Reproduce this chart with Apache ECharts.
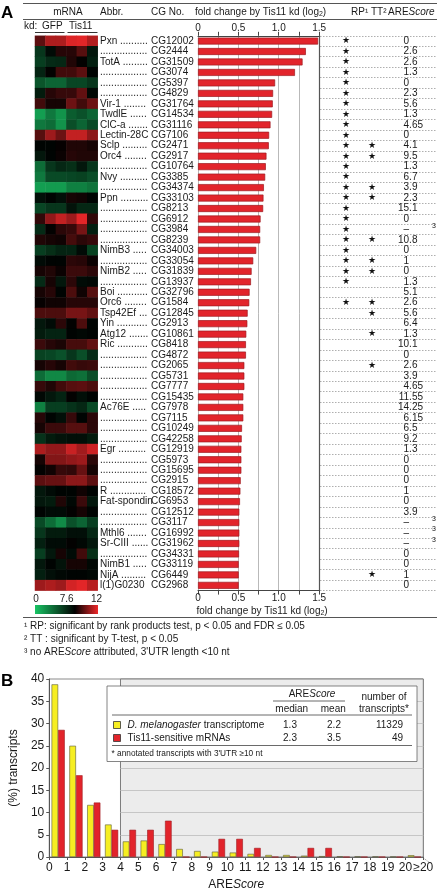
<!DOCTYPE html>
<html><head><meta charset="utf-8">
<script src="https://cdn.jsdelivr.net/npm/echarts@6/dist/echarts.min.js"></script>
<style>html,body{margin:0;padding:0;background:#fff}#c{width:439px;height:892px}</style>
</head><body><div id="c"></div>
<script>
// ---------------- DATA (panel A) ----------------
const abbr = ['Pxn','','TotA','','','','Vir-1','TwdlE','ClC-a','Lectin-28C','Sclp','Orc4','','Nvy','','Ppn','','','','','NimB3','','NimB2','','Boi','Orc6','Tsp42Ef','Yin','Atg12','Ric','','','','','','Ac76E','','','','Egr','','','','R','Fat-spondin','','','Mthl6','Sr-CIII','','NimB1','NijA','l(1)G0230'];
const cgNo = ['CG12002','CG2444','CG31509','CG3074','CG5397','CG4829','CG31764','CG14534','CG31116','CG7106','CG2471','CG2917','CG10764','CG3385','CG34374','CG33103','CG8213','CG6912','CG3984','CG8239','CG34003','CG33054','CG31839','CG13937','CG32796','CG1584','CG12845','CG2913','CG10861','CG8418','CG4872','CG2065','CG5731','CG7777','CG15435','CG7978','CG7115','CG10249','CG42258','CG12919','CG5973','CG15695','CG2915','CG18572','CG6953','CG12512','CG3117','CG16992','CG31962','CG34331','CG33119','CG6449','CG2968'];
const foldChange = [1.488,1.336,1.295,1.201,0.955,0.930,0.926,0.918,0.898,0.881,0.877,0.848,0.840,0.832,0.816,0.811,0.807,0.775,0.770,0.770,0.721,0.684,0.664,0.656,0.639,0.635,0.615,0.611,0.598,0.594,0.594,0.574,0.574,0.574,0.561,0.561,0.561,0.545,0.541,0.537,0.537,0.537,0.529,0.525,0.520,0.512,0.512,0.512,0.512,0.508,0.504,0.504,0.504];
const rpSignificant = [1,1,1,1,1,1,1,1,1,1,1,1,1,1,1,1,1,1,1,1,1,1,1,1,0,1,0,0,0,0,0,0,0,0,0,0,0,0,0,0,0,0,0,0,0,0,0,0,0,0,0,0,0];
const ttSignificant = [0,0,0,0,0,0,0,0,0,0,1,1,0,0,1,1,0,0,0,1,0,1,1,0,0,1,1,0,1,0,0,1,0,0,0,0,0,0,0,0,0,0,0,0,0,0,0,0,0,0,0,1,0];
const areScore = ['0','2.6','2.6','1.3','0','2.3','5.6','1.3','4.65','0','4.1','9.5','1.3','6.7','3.9','2.3','15.1','0','–','10.8','0','1','0','1.3','5.1','2.6','5.6','6.4','1.3','10.1','0','2.6','3.9','4.65','11.55','14.25','6.15','6.5','9.2','1.3','0','0','0','1','0','3.9','–','–','–','0','0','1','0'];
const kdColumns = ['GFP 1','GFP 2','GFP 3','Tis11 1','Tis11 2','Tis11 3'];
const mrnaLevels = [
[9.3,10.8,10.8,11.7,11.8,10.9],[5.5,7.15,8.3,8.3,9.2,6.7],[5.2,5.95,6.1,8.2,7.6,6.4],[6.25,7.6,8.8,8.8,9.3,7.45],
[4.3,3.7,3.7,4.9,4.9,5.5],[6.55,8.3,8.6,8.6,9.4,7.3],[8.8,8.0,8.0,9.6,8.8,9.6],[1.45,2.95,1.9,4.0,4.45,3.7],
[2.95,3.4,1.9,4.6,3.7,4.75],[9.2,10.5,9.6,11.2,11.2,10.2],[7.45,7.45,7.7,8.2,8.2,8.0],[6.7,7.45,7.8,8.3,8.2,8.2],
[3.4,5.5,6.1,5.8,6.7,5.5],[2.95,4.75,4.75,4.9,5.05,4.6],[1.45,1.6,1.6,2.65,2.65,3.1],[7.0,7.45,7.0,8.0,7.9,7.45],
[4.9,5.5,5.5,6.85,6.1,6.1],[8.5,10.3,11.2,10.5,11.8,8.5],[5.95,7.6,8.4,8.6,9.8,6.4],[8.2,8.0,7.9,8.9,8.4,8.6],
[5.2,5.8,6.25,6.25,7.15,5.05],[7.15,7.45,7.45,8.4,8.3,7.8],[8.0,8.2,7.8,8.7,8.7,8.4],[5.95,8.0,6.7,8.4,7.15,7.3],
[8.0,8.3,7.45,9.0,7.9,9.2],[7.7,7.9,7.9,8.3,8.3,8.3],[9.0,9.0,9.0,9.8,9.8,9.4],[6.7,7.15,8.4,7.6,9.0,7.45],
[6.55,6.25,6.25,7.45,7.3,7.45],[8.7,8.3,8.1,8.9,8.9,9.4],[5.05,4.9,4.45,5.5,4.6,5.95],[8.0,8.3,8.0,8.8,8.6,8.7],
[3.4,2.35,2.35,3.55,3.25,4.6],[8.6,8.2,8.8,9.2,9.3,9.0],[7.3,6.7,6.25,7.6,7.0,7.45],[2.65,5.2,5.2,5.65,6.1,4.75],
[8.3,7.45,7.0,8.6,7.45,8.4],[8.0,8.7,8.7,9.2,9.2,8.4],[5.65,6.55,6.85,7.0,7.0,6.55],[10.8,10.3,10.3,11.3,10.6,11.4],
[8.0,10.0,10.0,10.3,10.5,8.4],[7.6,7.9,8.6,8.5,9.5,8.0],[9.3,9.5,9.5,10.2,10.2,9.3],[6.7,7.15,7.45,7.45,7.9,7.45],
[6.7,6.55,8.2,7.3,8.7,6.7],[7.45,7.15,7.15,7.6,8.0,7.45],[4.75,3.4,2.2,4.45,3.7,5.2],[5.5,6.55,6.55,7.0,7.0,6.1],
[6.4,7.15,7.15,7.6,7.3,6.7],[5.2,6.7,8.0,7.15,8.8,5.8],[6.7,7.45,6.85,8.0,8.0,7.3],[6.4,7.0,7.3,7.45,7.45,7.3],
[10.5,10.8,10.5,11.5,11.8,11.0]];
const colorScaleTicks = ['0','7.6','12'];
const foldTicks = [0, 0.5, 1.0, 1.5];

// ---------------- DATA (panel B) ----------------
const scoreBins = ['0','1','2','3','4','5','6','7','8','9','10','11','12','13','14','15','16','17','18','19','≥20'];
const transcriptomePct = [38.8,25.0,11.7,7.3,3.5,3.7,2.9,1.8,1.35,1.2,1.0,0.7,0.45,0.45,0.3,0.2,0.15,0.12,0.1,0.08,0.4];
const tis11Pct = [28.57,18.37,12.24,6.12,6.12,6.12,8.16,0,0,4.08,4.08,2.04,0,0,2.04,2.04,0,0,0,0,0];
const legendRows = [
  {name:'D. melanogaster transcriptome', median:'1.3', mean:'2.2', n:'11329'},
  {name:'Tis11-sensitive mRNAs', median:'2.3', mean:'3.5', n:'49'}
];

// ---------------- STYLE ----------------
const FF = '"Liberation Sans", Arial, Helvetica, sans-serif';
const TXT = '#1a1a1a';
const GREEN = [24,196,100], BLACK=[0,0,0], RED=[238,40,42];
const MIDV = 7.6, MAXV = 12;
const RED_BAR = '#e2242b', YEL_BAR = '#f6ee22';
const rowsTop = 35.8, rowsH = 554.8;

function mix(a,b,t){return 'rgb('+a.map((v,i)=>Math.round(v+(b[i]-v)*t)).join(',')+')';}
function colorAt(v){ return v<=MIDV ? mix(GREEN,BLACK,v/MIDV) : mix(BLACK,RED,(v-MIDV)/(MAXV-MIDV)); }
const colorStops = []; for(let i=0;i<=48;i++){ colorStops.push(colorAt(i*MAXV/48)); }

const ctx = document.createElement('canvas').getContext('2d');
ctx.font = '10px ' + FF;
function abbrLabel(a){
  const w0 = a ? ctx.measureText(a+' ').width : 0;
  const wd = ctx.measureText('.').width;
  const n = Math.floor((48.5 - w0)/wd);
  return (a ? a+' ' : '') + (n>=2 ? '.'.repeat(n) : '');
}

const heatData = [];
mrnaLevels.forEach((row,r)=>row.forEach((v,c)=>heatData.push([c,r,v])));

function T(x,y,text,o){ return {type:'text', x:x, y:y, silent:true, z:10,
  style:Object.assign({text:text, fill:TXT, fontSize:10, fontFamily:FF, align:'left', verticalAlign:'middle'}, o||{})}; }
function L(x1,y1,x2,y2,c,w,dash){ return {type:'line', silent:true, z:10, shape:{x1,y1,x2,y2}, style:{stroke:c||'#555', lineWidth:w||1, lineDash:dash||null}}; }
function R(x,y,w,h,fill,stroke){ return {type:'rect', silent:true, z:10, shape:{x,y,width:w,height:h}, style:{fill:fill, stroke:stroke||null, lineWidth:stroke?0.8:0}}; }

const chart = echarts.init(document.getElementById('c'), null, {renderer:'canvas'});

const catY = (grid, extra) => Object.assign({gridIndex:grid, type:'category', data:cgNo, inverse:true, boundaryGap:true,
  axisLine:{show:false}, axisTick:{show:false}, splitLine:{show:false}}, extra);
const richN = {fontSize:10,fontFamily:FF,fill:TXT};
const richI = {fontSize:10,fontFamily:FF,fill:TXT,fontStyle:'italic'};
const richSub = {fontSize:7,fontFamily:FF,fill:TXT,verticalAlign:'bottom',padding:[5,0,0,0]};

const graphics = [
  T(1,13,'A',{fontSize:17,fontWeight:'bold',fill:'#000'}),
  L(23,3.5,437,3.5,'#555',1),
  L(23,19.5,437,19.5,'#555',1),
  T(68,12,'mRNA',{align:'center'}),
  T(100,12,'Abbr.'),
  T(151,12,'CG No.'),
  T(195,12,'{n|fold change by Tis11 kd (log}{s|2}{n|)}',{rich:{n:richN,s:richSub}}),
  T(351,12,'RP¹'),
  T(371,12,'TT²'),
  T(388,12,'{n|ARE}{i|Score}',{rich:{n:richN,i:richI}}),
  T(24,26,'kd:'),
  T(42,26,'GFP'),
  T(69,26,'Tis11'),
  L(35,32.5,64.5,32.5,'#333',1),
  L(67.5,32.5,97.5,32.5,'#333',1),
  T(196.5,611,'{n|fold change by Tis11 kd (log}{s|2}{n|)}',{rich:{n:richN,s:richSub}}),
  T(36,599,colorScaleTicks[0],{align:'center'}),
  T(66.7,599,colorScaleTicks[1],{align:'center'}),
  T(96.5,599,colorScaleTicks[2],{align:'center'}),
  {type:'rect', silent:true, z:10, shape:{x:35,y:605,width:63,height:9},
   style:{fill:new echarts.graphic.LinearGradient(0,0,1,0,[{offset:0,color:colorAt(0)},{offset:MIDV/MAXV,color:colorAt(MIDV)},{offset:1,color:colorAt(MAXV)}])}},
  L(23,617.5,437,617.5,'#555',1),
  T(24,626,'¹ RP: significant by rank products test, p < 0.05 and FDR ≤ 0.05'),
  T(24,639,'² TT : significant by T-test, p < 0.05'),
  T(24,652,'{n|³ no ARE}{i|Score}{n| attributed, 3\'UTR length <10 nt}',{rich:{n:richN,i:richI}}),
  T(1,681,'B',{fontSize:17,fontWeight:'bold',fill:'#000'}),
  R(107,686,310,75.5,'#fff','#666'),
  T(312,694,'{n|ARE}{i|Score}',{align:'center',rich:{n:richN,i:richI}}),
  L(273,701,345,701,'#444',0.8),
  T(384,697,'number of',{align:'center'}),
  T(384,709,'transcripts*',{align:'center'}),
  T(291.7,709,'median',{align:'center'}),
  T(333.3,709,'mean',{align:'center'}),
  L(112,715,412,715,'#444',0.8),
  R(113.5,721.5,7,7,YEL_BAR,'#333'),
  T(127.5,725.5,'{i|D. melanogaster}{n| transcriptome}',{rich:{n:richN,i:richI}}),
  T(290,725.5,legendRows[0].median,{align:'center'}),
  T(334,725.5,legendRows[0].mean,{align:'center'}),
  T(403,725.5,legendRows[0].n,{align:'right'}),
  R(113.5,734.5,7,7,RED_BAR,'#333'),
  T(127.5,738.5,legendRows[1].name),
  T(290,738.5,legendRows[1].median,{align:'center'}),
  T(334,738.5,legendRows[1].mean,{align:'center'}),
  T(403,738.5,legendRows[1].n,{align:'right'}),
  L(112,745.5,412,745.5,'#444',0.8),
  T(111.5,753.5,'* annotated transcripts with 3\'UTR ≥10 nt',{fontSize:8.3}),
  L(423.5,858,430,863,'#777',0.8,[1,1])
];

const foldFmt = v=>foldTicks.some(t=>Math.abs(t-v)<1e-6)?(v===0?'0':v.toFixed(1)):'';
const option = {
  animation:false,
  backgroundColor:'#fff',
  textStyle:{fontFamily:FF},
  grid:[
    {left:35, top:rowsTop, width:62.7, height:rowsH},
    {left:198, top:rowsTop, width:122, height:rowsH},
    {left:320, top:rowsTop, width:117, height:rowsH},
    {left:44, top:679, width:379.3, height:178.5, show:true, borderColor:'#8a8a8a', borderWidth:1, backgroundColor:'#fff'}
  ],
  visualMap:{type:'continuous', min:0, max:MAXV, seriesIndex:0, show:false, inRange:{color:colorStops}},
  xAxis:[
    {gridIndex:0, type:'category', data:kdColumns, show:false},
    {gridIndex:1, type:'value', position:'top', min:0, max:1.5, interval:0.25,
     axisLine:{show:true, lineStyle:{color:'#444', width:1}}, axisTick:{show:true, length:4, lineStyle:{color:'#444'}},
     axisLabel:{margin:3, fontSize:10, color:TXT, fontFamily:FF, formatter:foldFmt},
     splitLine:{show:true, lineStyle:{color:'#b9b9b9', width:1}}},
    {gridIndex:1, type:'value', position:'bottom', min:0, max:1.5, interval:0.25,
     axisLine:{show:true, lineStyle:{color:'#444', width:1}}, axisTick:{show:true, length:4, lineStyle:{color:'#444'}},
     axisLabel:{margin:3, fontSize:10, color:TXT, fontFamily:FF, formatter:foldFmt},
     splitLine:{show:false}},
    {gridIndex:2, type:'value', show:false, min:0, max:1},
    {gridIndex:3, type:'category', data:scoreBins, show:false, boundaryGap:true},
    {gridIndex:3, type:'value', min:0, max:21, interval:1, position:'bottom',
     axisLine:{show:true, lineStyle:{color:'#555'}}, axisTick:{show:true, length:3, lineStyle:{color:'#555'}},
     axisLabel:{margin:5, fontSize:12, color:TXT, fontFamily:FF, formatter:v=>v===21?scoreBins[20]:String(v)},
     splitLine:{show:false},
     name:'{n|ARE}{i|Score}', nameLocation:'middle', nameGap:22,
     nameTextStyle:{rich:{n:{fontSize:12,fontFamily:FF,color:TXT},i:{fontSize:12,fontFamily:FF,color:TXT,fontStyle:'italic'}}}}
  ],
  yAxis:[
    catY(0,{show:false}),
    catY(1,{position:'left', axisLabel:{interval:0, align:'left', margin:47, fontSize:10, color:TXT, fontFamily:FF}}),
    catY(1,{position:'left', axisLabel:{interval:0, align:'left', margin:98, fontSize:10, color:TXT, fontFamily:FF, formatter:(v,i)=>abbrLabel(abbr[i])}}),
    catY(1,{position:'right', axisLine:{show:true, lineStyle:{color:'#555', width:1.2}},
      axisLabel:{interval:0, align:'center', margin:27, fontSize:9, color:'#111', fontFamily:'"DejaVu Sans"', formatter:(v,i)=>rpSignificant[i]?'★':''}}),
    catY(1,{position:'right', axisLabel:{interval:0, align:'center', margin:53, fontSize:9, color:'#111', fontFamily:'"DejaVu Sans"', formatter:(v,i)=>ttSignificant[i]?'★':''}}),
    catY(1,{position:'right', axisLabel:{interval:0, align:'right', margin:90, fontSize:10, color:TXT, fontFamily:FF, formatter:(v,i)=>areScore[i].split('.')[0]}}),
    catY(1,{position:'right', axisLabel:{interval:0, align:'left', margin:90, fontSize:10, color:TXT, fontFamily:FF, formatter:(v,i)=>{const p=areScore[i].split('.');return p.length>1?'.'+p[1]:'';}}}),
    catY(1,{position:'right', axisLabel:{interval:0, align:'left', margin:113, fontSize:7, color:TXT, fontFamily:FF, verticalAlign:'bottom', formatter:(v,i)=>areScore[i]==='–'?'3':''}}),
    catY(2,{position:'left', axisLabel:{show:false}, splitLine:{show:true, interval:0, lineStyle:{type:[1.5,1.5], color:'#9a9a9a', width:0.8}}}),
    {gridIndex:3, type:'value', min:0, max:40, interval:5,
     axisLine:{show:true, lineStyle:{color:'#555'}}, axisTick:{show:true, length:3, lineStyle:{color:'#555'}},
     axisLabel:{margin:5, fontSize:12, color:TXT, fontFamily:FF}, splitLine:{show:false},
     name:'(%) transcripts', nameLocation:'middle', nameGap:26, nameTextStyle:{fontSize:12, color:TXT, fontFamily:FF}}
  ],
  series:[
    {type:'heatmap', xAxisIndex:0, yAxisIndex:0, data:heatData, itemStyle:{borderWidth:0}},
    {type:'bar', xAxisIndex:1, yAxisIndex:1, data:foldChange, barWidth:7, z:3,
     itemStyle:{color:RED_BAR, borderColor:'#9d1a1f', borderWidth:0.7}},
    {type:'line', xAxisIndex:5, yAxisIndex:9, data:[], symbol:'none', z:1,
     markArea:{silent:true, z:1, itemStyle:{color:'#ececec', borderColor:'#7d7d7d', borderWidth:1},
       data:[[{xAxis:4, yAxis:0},{xAxis:21, yAxis:40}]]},
     markLine:{silent:true, z:2, symbol:['none','none'], label:{show:false}, lineStyle:{color:'#c6c6c6', type:'solid', width:1},
       data:[5,10,15,20,25,30,35].map(y=>[{coord:[4,y]},{coord:[21,y]}])}},
    {type:'bar', name:'D. melanogaster transcriptome', xAxisIndex:4, yAxisIndex:9, data:transcriptomePct, barWidth:6.6, barGap:'0%', z:3,
     itemStyle:{color:YEL_BAR, borderColor:'#5a5a3a', borderWidth:0.6}},
    {type:'bar', name:'Tis11-sensitive mRNAs', xAxisIndex:4, yAxisIndex:9, data:tis11Pct, barWidth:6.6, barGap:'0%', z:3,
     itemStyle:{color:RED_BAR, borderColor:'#a01c22', borderWidth:0.6}}
  ],
  graphic:graphics
};
chart.setOption(option);
</script></body></html>
